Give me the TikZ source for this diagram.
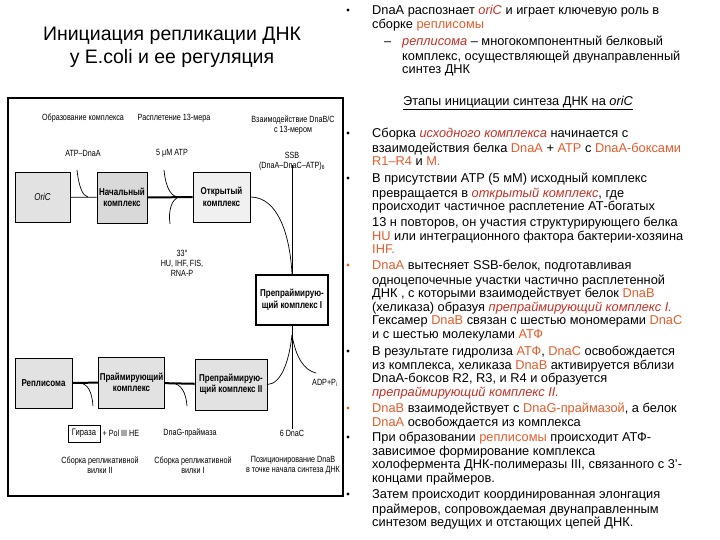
\documentclass[tikz,border=0pt]{standalone}
\usepackage{fontspec}
\setmainfont{Liberation Sans}
\newfontfamily\narrowsans[FakeStretch=0.8]{Liberation Sans}
\usetikzlibrary{calc,positioning}
\definecolor{dnaorange}{RGB}{226,92,44}
\definecolor{dnared}{RGB}{196,48,36}
\definecolor{boxgrey}{RGB}{226,226,226}
\newcommand{\hl}[1]{\textcolor{dnaorange}{#1}}
\newcommand{\hi}[1]{\textcolor{dnared}{\textit{#1}}}

\begin{document}
\begin{tikzpicture}[x=1pt,y=-1pt,
    txt/.style={anchor=north west,inner sep=0pt,align=left,font=\fontsize{12.8}{13.5}\selectfont},
    bul/.style={circle,inner sep=0pt,minimum size=3.2pt},
    lbl/.style={font=\narrowsans\fontsize{9}{10}\selectfont,align=center,inner sep=1pt},
    cbox/.style={draw,line width=0.8pt,fill=boxgrey,align=center,inner sep=1pt,
      font=\narrowsans\bfseries\fontsize{10}{11.5}\selectfont},
    link/.style={line width=0.7pt},
    bond/.style={line width=2pt}]
  \useasboundingbox[fill=white] (0,0) rectangle (720,540);

  % title
  \node[font=\fontsize{19.5}{23}\selectfont,align=center] (title) at (172,47)
    {Инициация репликации ДНК\\у E.coli и ее регуляция};

  % scheme
  \draw[line width=1.1pt] (8,98) rectangle (343,496);
  \node[lbl] (stage1) at (83,118) {Образование комплекса};
  \node[lbl] (stage2) at (174,118) {Расплетение 13-мера};
  \node[lbl] (stage3) at (293,125) {Взаимодействие DnaB/C\\с 13-мером};
  \node[lbl] (atpdnaa) at (83,153) {ATP–DnaA};
  \node[lbl] (atp5) at (172,153) {5 μM ATP};
  \node[lbl] (ssb) at (292,161) {SSB\\(DnaA–DnaC–ATP)\textsubscript{6}};
  \node[lbl] (factors) at (182,263) {33°\\HU, IHF, FIS,\\RNA-P};

  \node[cbox,minimum width=55pt,minimum height=50pt,font=\narrowsans\itshape\fontsize{10}{11}\selectfont] (oric) at (42.5,197) {OriC};
  \node[cbox,minimum width=50pt,minimum height=51pt,fill=gray!30] (nach) at (122,197.5) {Начальный\\комплекс};
  \node[cbox,minimum width=57pt,minimum height=50pt,fill=gray!12] (otkr) at (221.5,197) {Открытый\\комплекс};
  \node[cbox,minimum width=72pt,minimum height=50pt,fill=white,line width=1.5pt] (prep1) at (292,300) {Препраймирую-\\щий комплекс I};
  \node[cbox,minimum width=57pt,minimum height=50pt] (repl) at (43.5,383) {Реплисома};
  \node[cbox,minimum width=63pt,minimum height=51pt] (praim) at (131.5,382.5) {Праймирующий\\комплекс};
  \node[cbox,minimum width=72pt,minimum height=51pt] (prep2) at (231,384.5) {Препраймирую-\\щий комплекс II};

  \node[cbox,minimum width=32pt,minimum height=17pt,fill=white,font=\narrowsans\fontsize{9.5}{10}\selectfont] (giraza) at (84,433.5) {Гираза};
  \node[lbl,right=1pt of giraza] (pol) {+ Pol III HE};
  \node[lbl] (dnag) at (190,433) {DnaG-праймаза};
  \node[lbl] (dnac) at (292,433) {6 DnaC};
  \node[lbl] (fork2) at (100,465) {Сборка репликативной\\вилки II};
  \node[lbl] (fork1) at (193,465) {Сборка репликативной\\вилки I};
  \node[lbl] (posit) at (293,465) {Позиционирование DnaB\\в точке начала синтеза ДНК};
  \node[lbl,anchor=west] (adp) at (311,383) {ADP+P\textsubscript{i}};

  \coordinate (j1) at (88,197);
  \coordinate (atpin) at (77,170);
  \coordinate (j2) at (179,197);
  \coordinate (atpup) at (164,170);
  \coordinate (atpdown) at (170,224);
  \coordinate (fork) at (292,335);
  \coordinate (adpin) at (316,373);
  \coordinate (j3) at (80,383);
  \coordinate (girin) at (93,406);
  \coordinate (j4) at (172,383);
  \coordinate (dnagin) at (187,406);

  \draw[link] (oric) -- (nach);
  \draw[link] (atpin) .. controls (79,188) and (83,196) .. (j1);
  \draw[bond] (nach) -- (otkr);
  \draw[link] (atpup) .. controls (166,190) and (172,197) .. (j2);
  \draw[link] (j2) .. controls (172,199) and (168,210) .. (atpdown);
  \draw[link] (otkr.east) .. controls (278,197) and (290,235) .. (prep1.north);
  \draw[link] ([yshift=6pt]ssb.south) -- (prep1.north);
  \draw[link] (prep1.south) -- (dnac.north);
  \draw[link] (fork) .. controls (289,362) and (281,384) .. (prep2.east);
  \draw[link] (fork) .. controls (296,358) and (304,370) .. (adpin);
  \draw[bond] (prep2) -- (praim);
  \draw[link] (j4) .. controls (181,384) and (186,392) .. (dnagin);
  \draw[bond] (praim) -- (repl);
  \draw[link] (j3) .. controls (88,384) and (92,392) .. (girin);

  % text column
  \foreach \y/\col [count=\i] in {10/black,133/black,178/black,265/dnaorange,351/black,408/dnaorange,437/black,494/black}
    {\node[bul,fill=\col] (bul\i) at (348,\y) {};}
  \node[txt] (p1) at (372,5) {\strut DnaA распознает \hi{oriC} и играет ключевую роль в\\сборке \hl{реплисомы}};
  \node[txt] (dash) at (384,36) {\strut –};
  \node[txt] (p1a) at (402,36) {\strut\hi{реплисома} – многокомпонентный белковый\\комплекс, осуществляющей двунаправленный\\синтез ДНК};
  \node[txt] (stages) at (403,96) {\strut\underline{Этапы инициации синтеза ДНК на \textit{oriC}}};
  \node[txt] (p2) at (372,128) {\strut Сборка \hi{исходного комплекса} начинается с\\взаимодействия белка \hl{DnaA} + \hl{ATP} с \hl{DnaA-боксами}\\\hl{R1–R4} и \hl{M.}};
  \node[txt] (p3) at (372,173) {\strut В присутствии ATP (5 мМ) исходный комплекс\\превращается в \hi{открытый комплекс}, где\\происходит частичное расплетение АТ-богатых\\[2.5pt]13 н повторов, он  участия структурирующего белка\\\hl{HU} или интеграционного фактора бактерии-хозяина\\\hl{IHF.}};
  \node[txt] (p4) at (372,260) {\strut\hl{DnaA} вытесняет  SSB-белок, подготавливая\\одноцепочечные участки частично расплетенной\\ДНК , с которыми взаимодействует белок \hl{DnaB}\\(хеликаза)  образуя \hi{препраймирующий комплекс I.}\\Гексамер \hl{DnaB} связан с шестью мономерами \hl{DnaC}\\и с шестью молекулами \hl{АТФ}};
  \node[txt] (p5) at (372,346) {\strut В результате гидролиза \hl{АТФ}, \hl{DnaC} освобождается\\из комплекса,  хеликаза \hl{DnaB} активируется вблизи\\DnaA-боксов R2, R3, и R4 и образуется\\\hi{препраймирующий комплекс II.}};
  \node[txt] (p6) at (372,403) {\strut\hl{DnaB} взаимодействует с \hl{DnaG-праймазой}, а белок\\\hl{DnaA} освобождается из комплекса};
  \node[txt] (p7) at (372,432) {\strut При образовании \hl{реплисомы} происходит АТФ-\\зависимое формирование комплекса\\холофермента ДНК-полимеразы III, связанного с 3'-\\концами праймеров.};
  \node[txt] (p8) at (372,489) {\strut Затем происходит координированная элонгация\\праймеров, сопровождаемая двунаправленным\\синтезом ведущих и отстающих цепей ДНК.};
\end{tikzpicture}
\end{document}
